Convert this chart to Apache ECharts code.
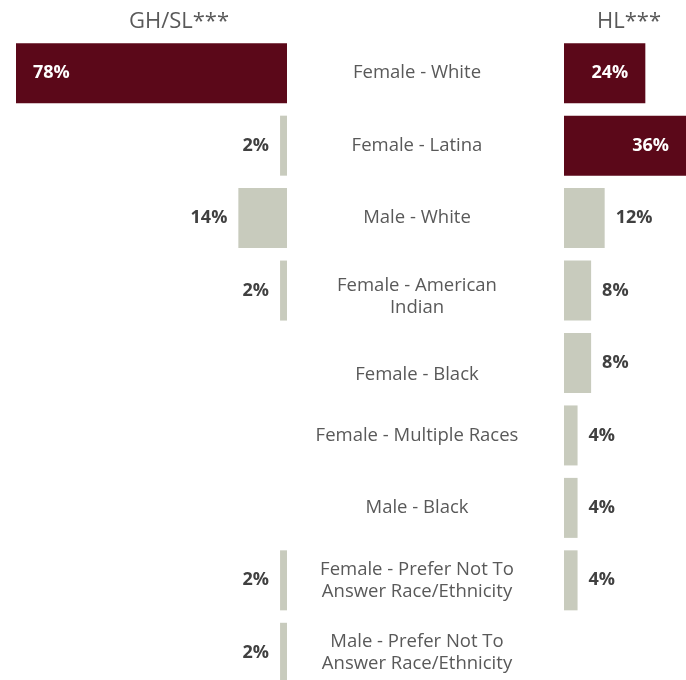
<!DOCTYPE html>
<html lang="en">
<head>
    <meta charset="UTF-8">
    <title>GH/SL vs HL</title>
    <script src="https://cdn.jsdelivr.net/npm/echarts@6/dist/echarts.min.js"></script>
    <style>
        html, body { margin: 0; padding: 0; background: #fff; overflow: hidden; }
        #main { width: 686px; height: 692px; }
    </style>
</head>
<body>
<div id="main"></div>
<script>
    // categories top to bottom
    var categories = [
        'Female - White',
        'Female - Latina',
        'Male - White',
        'Female - American\nIndian',
        'Female - Black',
        'Female - Multiple Races',
        'Male - Black',
        'Female - Prefer Not To\nAnswer Race/Ethnicity',
        'Male - Prefer Not To\nAnswer Race/Ethnicity'
    ];
    var ghslValues = [78, 2, 14, 2, null, null, null, 2, 2];
    var hlValues = [24, 36, 12, 8, 8, 4, 4, 4, null];
    // rows drawn in the dark colour
    var ghslDark = [0];
    var hlDark = [0, 1];

    var DARK = '#5b0819', GREY = '#c8cbbd', TXT = '#595959';
    var FONT = 'Open Sans';

    function makeData(values, darkRows, side) {
        return values.map(function (v, i) {
            var dark = darkRows.indexOf(i) >= 0;
            return {
                value: v,
                itemStyle: {color: dark ? DARK : GREY},
                label: {
                    show: v != null,
                    position: dark ? (side == 'left' ? 'insideLeft' : 'insideRight') : side,
                    distance: dark ? 17 : 11,
                    color: dark ? '#fff' : '#404040'
                }
            };
        });
    }

    var myChart = echarts.init(document.getElementById('main'));
    var option = {
        animation: false,
        title: [
            {text: 'GH/SL***', left: 174, top: 6, textAlign: 'center',
                textStyle: {fontFamily: FONT, fontSize: 22, fontWeight: 'normal', color: TXT}},
            {text: 'HL***', left: 624, top: 6, textAlign: 'center',
                textStyle: {fontFamily: FONT, fontSize: 22, fontWeight: 'normal', color: TXT}}
        ],
        grid: [
            {left: 16, width: 271, top: 37, height: 652},
            {left: 564, width: 125, top: 37, height: 652}
        ],
        xAxis: [
            {gridIndex: 0, type: 'value', min: 0, max: 78, inverse: true, show: false},
            {gridIndex: 1, type: 'value', min: 0, max: 36, show: false}
        ],
        yAxis: [
            {gridIndex: 0, type: 'category', data: categories, inverse: true, show: false},
            {
                gridIndex: 1, type: 'category', data: categories, inverse: true,
                axisLine: {show: false}, axisTick: {show: false},
                axisLabel: {
                    margin: 147, align: 'center', fontFamily: FONT, fontSize: 18.5,
                    color: TXT, lineHeight: 22,
                    formatter: function (name) {
                        // a couple of labels sit a bit lower in their row
                        if (name == 'Female - Black') return '{low|' + name + '}';
                        if (name.indexOf('Indian') >= 0) return '{mid|' + name + '}';
                        return name;
                    },
                    rich: {
                        low: {padding: [24, 0, 0, 0], fontFamily: FONT, fontSize: 18.5, color: TXT, lineHeight: 22},
                        mid: {padding: [12, 0, 0, 0], fontFamily: FONT, fontSize: 18.5, color: TXT, lineHeight: 22}
                    }
                }
            }
        ],
        series: [
            {
                name: 'GH/SL', type: 'bar', xAxisIndex: 0, yAxisIndex: 0, barWidth: 60,
                data: makeData(ghslValues, ghslDark, 'left'),
                label: {fontFamily: FONT, fontSize: 18, fontWeight: 'bold', formatter: '{c}%'}
            },
            {
                name: 'HL', type: 'bar', xAxisIndex: 1, yAxisIndex: 1, barWidth: 60,
                data: makeData(hlValues, hlDark, 'right'),
                label: {fontFamily: FONT, fontSize: 18, fontWeight: 'bold', formatter: '{c}%'}
            }
        ]
    };
    myChart.setOption(option);
</script>
</body>
</html>
